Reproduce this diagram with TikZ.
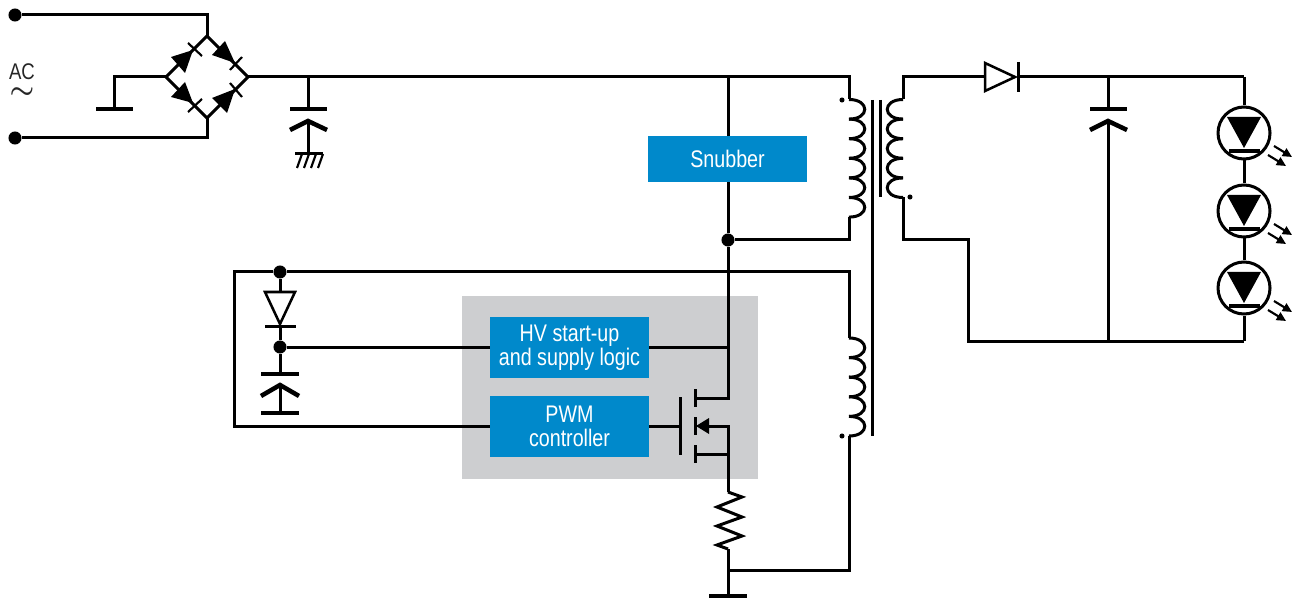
\documentclass[tikz,border=0pt]{standalone}
\usepackage{amsmath, amssymb}
\usepackage{xcolor}
\usepackage{fontspec}
\setmainfont[FakeStretch=0.82]{Liberation Sans}
\usepackage{tikz}
\usetikzlibrary{arrows.meta}

\definecolor{boxblue}{HTML}{0089CB}
\definecolor{boardgray}{HTML}{CDCED0}

\tikzset{
  wire/.style={line width=2.25pt, line join=miter},
  diodeline/.style={line width=1.9pt, line join=miter},
  thinwire/.style={line width=1.6pt},
  plate/.style={line width=3.4pt},
  junction/.style={circle, fill=black, inner sep=0pt, minimum size=9.8pt},
  polarity/.style={circle, fill=black, inner sep=0pt, minimum size=3.8pt},
  bluebox/.style={fill=boxblue, text=white, minimum width=119.4pt, align=center, font=\fontsize{18}{18}\selectfont, inner sep=0pt},
  ledcircle/.style={circle, draw, line width=2.25pt, inner sep=0pt, minimum size=39pt}
}

% one winding, bulging by the sign of #4
\newcommand{\coilwinding}[4]{
  \foreach \i in {1,...,#3}
    \draw[wire] (#1,#2+\i*19.6-19.6) .. controls (#1+#4,#2+\i*19.6-19.6) and (#1+#4,#2+\i*19.6) .. (#1,#2+\i*19.6);
}

\begin{document}
\begin{tikzpicture}[x=0.75pt, y=-0.75pt]
  \useasboundingbox (0,0) rectangle (1301,598);

  % Define the nodes
  \node[fill=boardgray, minimum width=222pt, minimum height=137.2pt, inner sep=0pt] (board) at (610,387.5) {};
  \node[junction] (acin1) at (15,15) {};
  \node[junction] (acin2) at (15,138) {};
  \node[text=black!85, align=center, font=\fontsize{17}{14}\selectfont, inner sep=0pt] (aclabel) at (22,81) {AC\\{\fontsize{20}{14}\selectfont$\boldsymbol{\sim}$}};

  \coordinate (brtop) at (207,36);
  \coordinate (brleft) at (166,77);
  \coordinate (brright) at (248,77);
  \coordinate (brbot) at (207,118);
  \coordinate (gndl) at (114,109);
  \coordinate (capa) at (308,77);
  \coordinate (capb) at (308,109);
  \coordinate (capc) at (308,121);
  \coordinate (capd) at (308,154);
  \coordinate (tsw) at (728,77);
  \coordinate (prita) at (849,99.5);
  \coordinate (pritb) at (849,217);
  \coordinate (auxa) at (849,338);
  \coordinate (auxb) at (849,436);
  \coordinate (seca) at (903,99.5);
  \coordinate (secb) at (903,197.5);
  \coordinate (tcap) at (1108,77);
  \coordinate (bcap) at (1108,341);
  \coordinate (tled) at (1244,77);
  \coordinate (bled) at (1244,341);
  \coordinate (jhv) at (728,347);
  \coordinate (drain) at (728,398);
  \coordinate (source) at (728,426);
  \coordinate (body) at (728,454);
  \coordinate (ra) at (728,492);
  \coordinate (rb) at (728,549);
  \coordinate (jgnd) at (728,570);
  \coordinate (gndr) at (728,596);

  \node[junction] (jsw) at (728,240) {};
  \node[junction] (jfb) at (280,272) {};
  \node[junction] (jaux) at (280,347) {};

  \node[polarity] (dotp) at (842,100) {};
  \node[polarity] (dots) at (910,197) {};
  \node[polarity] (dota) at (842,436) {};

  % Draw the mains side
  \draw[wire] (acin1) -| (brtop);
  \draw[wire] (acin2) -| (brbot);
  \draw[wire] (brtop) -- (brright) -- (brbot) -- (brleft) -- cycle;
  \draw[wire] (brleft) -| (gndl);
  \draw[plate] (96,109) -- (133,109);
  \draw[wire] (brright) -- (tsw) -- (849,77) -- (prita);
  \draw[wire] (capa) -- (capb);
  \draw[plate] (290,109) -- (327,109);
  \draw[plate] (290,130) -- (capc) -- (327,130);
  \draw[wire] (capc) -- (capd);
  \draw[wire] (295,154) -- (323,154);
  \foreach \x in {302,309,316,323}
    \draw[thinwire] (\x,154) -- (\x-5,168);

  % Bridge diodes
  \fill (193,50) -- (171,57) -- (185,73) -- cycle;
  \fill (235,63) -- (225,41) -- (212,55) -- cycle;
  \fill (193,103) -- (185,82) -- (171,97) -- cycle;
  \fill (235,89) -- (212,98) -- (227,113) -- cycle;
  \draw[thinwire] (188,43) -- (202,56);
  \draw[thinwire] (230,70) -- (242,57);
  \draw[thinwire] (188,112) -- (202,99);
  \draw[thinwire] (230,83) -- (242,97);

  % Transformer
  \coilwinding{849}{99.5}{6}{21}
  \coilwinding{903}{99.5}{5}{-21}
  \coilwinding{849}{338}{5}{21}
  \draw[wire] (872,100) -- (872,436);
  \draw[wire] (880,100) -- (880,197);

  % Switch node and feedback loop
  \draw[wire] (tsw) -- (jsw);
  \draw[wire] (pritb) |- (jsw);
  \draw[wire] (jsw) -- (drain) -- (695,398);
  \draw[wire] (auxa) |- (jfb);
  \draw[wire] (jfb) -- (234,272) -- (234,426) -- (490,426);
  \draw[wire] (jfb) -- (280,292);
  \draw[diodeline] (265,292) -- (295,292) -- (280,324) -- cycle;
  \draw[wire] (265,326) -- (296,326);
  \draw[wire] (280,326) -- (jaux);
  \draw[wire] (jaux) -- (280,374);
  \draw[plate] (261,374) -- (299,374);
  \draw[plate] (261,396) -- (280,385) -- (299,396);
  \draw[wire] (280,385) -- (280,413);
  \draw[plate] (261,413) -- (299,413);
  \draw[wire] (jaux) -- (490,347);
  \draw[wire] (649,347) -- (jhv);

  % MOSFET
  \draw[wire] (649,426) -- (680,426);
  \draw[wire] (680,397) -- (680,455);
  \draw[wire] (695,389) -- (695,407);
  \draw[wire] (695,417) -- (695,435);
  \draw[wire] (695,445) -- (695,463);
  \fill (696,426) -- (709,418) -- (709,434) -- cycle;
  \draw[wire] (709,426) -- (source) -- (body) -- (695,454);
  \draw[wire] (body) -- (ra);
  \draw[wire] (ra) -- (742,497) -- (717,507) -- (742,517) -- (717,526) -- (742,536) -- (717,545) -- (rb);
  \draw[wire] (rb) -- (gndr);
  \draw[plate] (709,596) -- (747,596);
  \draw[wire] (jgnd) -| (auxb);

  % Secondary side
  \draw[wire] (seca) |- (985,77);
  \draw[diodeline] (985,63) -- (1015,77) -- (985,91) -- cycle;
  \draw[wire] (1018,62) -- (1018,92);
  \draw[wire] (1018,77) -- (tled);
  \draw[wire] (tcap) -- (1108,109);
  \draw[plate] (1090,109) -- (1127,109);
  \draw[plate] (1090,130) -- (1108,121) -- (1127,130);
  \draw[wire] (1108,121) -- (bcap);
  \draw[wire] (secb) -- (903,240) -- (968,240) -- (968,341) -- (bled);

  % LEDs
  \foreach \n/\cy in {1/133,2/211,3/288} {
    \node[ledcircle] (led\n) at (1244,\cy) {};
    \fill (1227,\cy-16) -- (1261,\cy-16) -- (1244,\cy+15) -- cycle;
    \draw[line width=2.6pt] (1229,\cy+18) -- (1260,\cy+18);
    \draw[-{Triangle[length=7pt,width=6.5pt]}, thinwire] (1274,\cy+13) -- (1292,\cy+24);
    \draw[-{Triangle[length=7pt,width=6.5pt]}, thinwire] (1268,\cy+22) -- (1286,\cy+33);
  }
  \draw[wire] (tled) -- (led1);
  \draw[wire] (led1) -- (led2);
  \draw[wire] (led2) -- (led3);
  \draw[wire] (led3) -- (bled);

  % Blue blocks go on top of the wires
  \node[bluebox, minimum height=34.5pt] (snubber) at (727.5,159) {Snubber};
  \node[bluebox, minimum height=45.8pt] (hvlogic) at (569.5,347.5) {HV start-up\\and supply logic};
  \node[bluebox, minimum height=45.8pt] (pwm) at (569.5,426.5) {PWM\\controller};
\end{tikzpicture}
\end{document}
